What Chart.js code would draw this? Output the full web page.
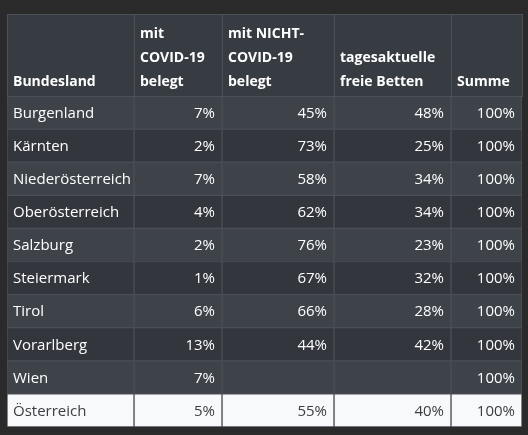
<!DOCTYPE html>
<html><head><meta charset="utf-8">
<script src="https://cdn.jsdelivr.net/npm/chart.js@4/dist/chart.umd.min.js"></script>
<style>html,body{margin:0;padding:0;background:#2a2a2a;}#c{display:block;}</style>
</head><body>
<canvas id="c" width="528" height="435"></canvas>
<script>
const headers = [["Bundesland"],["mit","COVID-19","belegt"],["mit NICHT-","COVID-19","belegt"],["tagesaktuelle","freie Betten"],["Summe"]];
const regions = ["Burgenland","Kärnten","Niederösterreich","Oberösterreich","Salzburg","Steiermark","Tirol","Vorarlberg","Wien","Österreich"];
const covid = ["7%","2%","7%","4%","2%","1%","6%","13%","7%","5%"];
const nonCovid = ["45%","73%","58%","62%","76%","67%","66%","44%","","55%"];
const free = ["48%","25%","34%","34%","23%","32%","28%","42%","","40%"];
const total = ["100%","100%","100%","100%","100%","100%","100%","100%","100%","100%"];
const columns = [regions, covid, nonCovid, free, total];
const colEdges = [0,127,215,327,444,515];

const rowBg = (i) => i === regions.length-1 ? '#f8f9fa' : (i % 2 === 0 ? '#3e4249' : '#33363d');
const FONT = '"Open Sans", "Noto Sans", sans-serif';

const datasets = columns.map((col, c) => ({
  data: regions.map(() => [colEdges[c], colEdges[c+1]]),
  backgroundColor: (ctx) => rowBg(ctx.dataIndex),
  borderColor: '#4b4f56',
  borderWidth: 1,
  borderSkipped: false,
  categoryPercentage: 1,
  barPercentage: 1,
  grouped: false
}));

const textPlugin = {
  id: 'cellText',
  afterDatasetsDraw(chart) {
    const ctx = chart.ctx;
    const ca = chart.chartArea;
    const xs = chart.scales.x;
    ctx.save();
    // header
    ctx.fillStyle = '#373b42';
    ctx.fillRect(xs.getPixelForValue(colEdges[0]), 14, xs.getPixelForValue(colEdges[5]) - xs.getPixelForValue(colEdges[0]), ca.top - 14);
    ctx.strokeStyle = '#4b4f56'; ctx.lineWidth = 1;
    for (let c = 0; c < headers.length; c++) {
      const x0 = xs.getPixelForValue(colEdges[c]), x1 = xs.getPixelForValue(colEdges[c+1]);
      ctx.strokeRect(x0 + 0.5, 14.5, x1 - x0, ca.top - 14);
      ctx.font = 'bold 14px ' + FONT;
      ctx.fillStyle = '#ffffff';
      ctx.textAlign = 'left'; ctx.textBaseline = 'alphabetic';
      const lines = headers[c];
      lines.forEach((l, k) => {
        const y = ca.top - 10 - (lines.length - 1 - k) * 24;
        ctx.fillText(l, x0 + 6, y);
      });
    }
    // cells
    columns.forEach((col, c) => {
      const meta = chart.getDatasetMeta(c);
      meta.data.forEach((bar, i) => {
        const last = i === regions.length - 1;
        ctx.font = '15px ' + FONT;
        ctx.textBaseline = 'middle';
        ctx.fillStyle = last ? '#3a3d42' : '#ffffff';
        const x0 = Math.min(bar.x, bar.base), x1 = Math.max(bar.x, bar.base);
        if (c === 0) { ctx.textAlign = 'left'; ctx.fillText(col[i], x0 + 6, bar.y + 1); }
        else { ctx.textAlign = 'right'; ctx.fillText(col[i], x1 - 7, bar.y + 1); }
      });
    });
    ctx.restore();
  }
};

new Chart(document.getElementById('c'), {
  type: 'bar',
  data: { labels: regions, datasets },
  options: {
    indexAxis: 'y',
    responsive: false,
    animation: false,
    layout: { padding: { left: 7, right: 6, top: 96, bottom: 8 } },
    scales: {
      x: { type: 'linear', min: colEdges[0], max: colEdges[5], display: false },
      y: { type: 'category', display: false, offset: true }
    },
    plugins: { legend: { display: false }, tooltip: { enabled: false } }
  },
  plugins: [textPlugin]
});
</script>
</body></html>
